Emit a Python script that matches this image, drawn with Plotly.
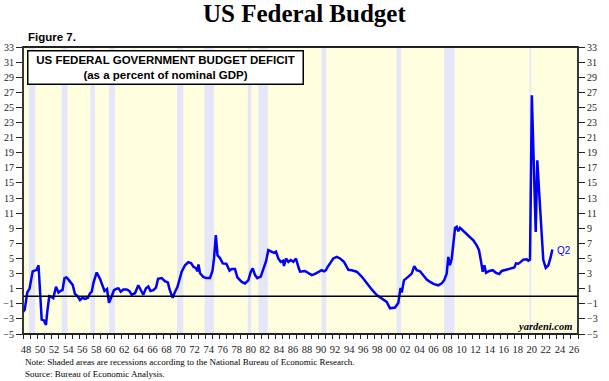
import plotly.graph_objects as go

# Budget deficit as % of nominal GDP, decimal years
years = [1948.0, 1948.24, 1948.61, 1948.93, 1949.38, 1949.95, 1950.21, 1950.42, 1950.66, 1950.99,
         1951.27, 1951.46, 1951.74, 1952.09, 1952.31, 1952.70, 1953.05, 1953.34, 1953.62, 1953.91,
         1954.19, 1954.48, 1954.76, 1955.07, 1955.40, 1955.73, 1956.11, 1956.44, 1956.83, 1957.25,
         1957.54, 1957.78, 1958.04, 1958.49, 1958.96, 1959.35, 1959.60, 1959.96, 1960.24, 1960.63,
         1960.95, 1961.34, 1961.59, 1961.91, 1962.28, 1962.76, 1963.13, 1963.47, 1963.94, 1964.41,
         1964.75, 1965.12, 1965.51, 1965.84, 1966.15, 1966.55, 1966.93, 1967.22, 1967.74, 1968.21,
         1968.64, 1968.83, 1969.17, 1969.31, 1969.64, 1969.99, 1970.59, 1971.06, 1971.53, 1971.91,
         1972.27, 1972.63, 1972.81, 1972.98, 1973.20, 1973.67, 1974.05, 1974.62, 1974.98, 1975.19,
         1975.45, 1975.69, 1976.04, 1976.43, 1976.94, 1977.40, 1977.71, 1978.18, 1978.51, 1979.13,
         1979.60, 1980.07, 1980.41, 1980.70, 1981.03, 1981.35, 1981.84, 1982.21, 1982.59, 1982.92,
         1983.40, 1983.73, 1984.01, 1984.34, 1984.68, 1985.01, 1985.15, 1985.44, 1985.77, 1986.11,
         1986.48, 1986.86, 1987.19, 1987.43, 1988.14, 1988.61, 1989.10, 1989.57, 1990.04, 1990.52,
         1990.85, 1991.13, 1991.37, 1991.80, 1992.17, 1992.66, 1993.13, 1993.69, 1994.31, 1994.79,
         1995.50, 1996.21, 1996.93, 1997.64, 1998.35, 1999.06, 1999.77, 2000.24, 2000.95, 2001.42,
         2001.57, 2001.74, 2001.91, 2002.23, 2002.85, 2003.33, 2003.69, 2004.04, 2004.51, 2004.98,
         2005.47, 2005.94, 2006.51, 2007.12, 2007.60, 2007.97, 2008.31, 2008.54, 2008.78, 2009.03,
         2009.25, 2009.50, 2009.74, 2009.96, 2010.21, 2010.68, 2011.16, 2011.63, 2012.10, 2012.58,
         2012.91, 2013.20, 2013.44, 2013.67, 2013.91, 2014.38, 2014.86, 2015.33, 2015.80, 2016.14,
         2016.85, 2017.57, 2017.94, 2018.18, 2018.51, 2018.85, 2019.22, 2019.70, 2019.93, 2020.17,
         2020.43, 2020.98, 2021.21, 2021.50, 2021.84, 2022.06, 2022.41, 2022.78, 2023.12, 2023.35]

deficit = [-2.1, -1.8, 0.5, 1.0, 3.3, 3.5, 4.1, 0.0, -3.1, -3.2,
           -3.8, -2.0, 0.0, -0.1, -0.25, 1.25, 0.5, 0.7, 0.8, 2.4,
           2.5, 2.2, 1.9, 1.5, 0.3, 0.05, -0.5, -0.2, -0.35, -0.2,
           0.4, 0.6, 1.8, 3.15, 2.3, 1.15, 0.7, 0.95, -0.86, 0.0,
           0.8, 1.0, 1.05, 0.6, 0.9, 0.9, 0.7, 0.2, 0.4, 1.45,
           0.8, 0.2, 1.05, 1.3, 0.7, 0.8, 1.15, 2.3, 2.4, 2.0,
           1.8, 1.0, 0.1, -0.2, 0.6, 1.25, 3.24, 4.1, 4.5, 4.4,
           3.9, 3.7, 3.3, 4.2, 3.05, 2.55, 2.4, 2.4, 3.4, 5.0,
           8.1, 5.4, 5.05, 4.35, 4.3, 3.4, 3.6, 3.6, 2.5, 1.9,
           1.7, 2.1, 3.2, 3.7, 2.8, 2.4, 2.6, 3.7, 4.6, 6.1,
           5.9, 5.75, 5.9, 5.0, 4.55, 4.7, 4.0, 5.0, 4.55, 4.8,
           4.55, 5.0, 3.9, 3.25, 3.35, 3.1, 2.8, 2.95, 3.25, 3.45,
           3.3, 3.45, 3.9, 4.55, 5.0, 5.2, 5.0, 4.55, 3.5, 3.45,
           3.25, 2.6, 1.7, 0.9, 0.15, -0.3, -0.75, -1.6, -1.5, -0.9,
           0.4, 1.1, 0.5, 2.1, 2.6, 3.0, 4.0, 3.45, 3.3, 2.7,
           2.2, 1.9, 1.6, 1.45, 1.7, 2.15, 3.0, 5.2, 4.1, 5.0,
           7.4, 9.05, 9.2, 8.6, 9.05, 8.65, 8.2, 7.85, 7.4, 6.75,
           6.1, 4.6, 3.25, 4.1, 3.1, 3.35, 3.45, 3.1, 2.95, 3.35,
           3.55, 3.7, 3.8, 4.35, 4.3, 4.55, 4.85, 4.9, 4.7, 4.85,
           26.6, 8.5, 18.0, 13.3, 8.6, 4.8, 3.75, 4.1, 5.2, 6.2]

# NBER recessions (decimal years)
rec_start = [1948.83, 1953.50, 1957.58, 1960.25, 1969.92, 1973.83, 1980.00, 1981.50, 1990.50, 2001.17, 2007.92, 2020.08]
rec_end   = [1949.75, 1954.33, 1958.25, 1961.08, 1970.83, 1975.17, 1980.50, 1982.83, 1991.17, 2001.83, 2009.42, 2020.33]

year_ticks = list(range(1948, 2028))
year_labels = [("%02d" % (y % 100)) if y % 2 == 0 and y < 2027 else "" for y in year_ticks]
y_ticks = list(range(-5, 34, 2))

serif = "Liberation Serif, Times New Roman, serif"
sans = "Liberation Sans, Arial, sans-serif"

fig = go.Figure()

fig.add_trace(go.Scatter(x=years, y=deficit, mode="lines",
                         line=dict(color="#0000FF", width=2.5),
                         hoverinfo="skip", showlegend=False))
# invisible trace to activate right axis
fig.add_trace(go.Scatter(x=[years[0]], y=[deficit[0]], yaxis="y2", mode="markers",
                         marker=dict(opacity=0), hoverinfo="skip", showlegend=False))

shapes = []
for s, e in zip(rec_start, rec_end):
    shapes.append(dict(type="rect", xref="x", yref="paper", x0=s, x1=e, y0=0, y1=1,
                       fillcolor="#E6E6FA", line=dict(width=0), layer="below"))
shapes.append(dict(type="line", xref="paper", yref="y", x0=0, x1=1, y0=0, y1=0,
                   line=dict(color="black", width=1.6)))
shapes.append(dict(type="rect", xref="paper", yref="paper", x0=0, x1=1, y0=0, y1=1,
                   line=dict(color="#222", width=1.8)))

annotations = [
    dict(text="<b>US Federal Budget</b>", xref="paper", yref="paper", x=0.508, y=1.115,
         xanchor="center", yanchor="middle", showarrow=False,
         font=dict(family=serif, size=25, color="black")),
    dict(text="<b>Figure 7.</b>", xref="paper", yref="paper", x=0.006, y=1.035,
         xanchor="left", yanchor="middle", showarrow=False,
         font=dict(family=sans, size=11.5, color="black")),
    dict(text="<b>US FEDERAL GOVERNMENT BUDGET DEFICIT</b><br><b>(as a percent of nominal GDP)</b>",
         xref="paper", yref="paper", x=0.0075, y=0.99, xanchor="left", yanchor="top",
         showarrow=False, align="center", width=270, height=28,
         bgcolor="white", bordercolor="black", borderwidth=1.5, borderpad=2,
         font=dict(family=sans, size=11.5, color="black")),
    dict(text="<b><i>yardeni.com</i></b>", xref="paper", yref="paper", x=0.992, y=0.025,
         xanchor="right", yanchor="middle", showarrow=False,
         font=dict(family=serif, size=10.5, color="black")),
    dict(text="Q2", xref="x", yref="y", x=years[-1], y=deficit[-1], xanchor="left",
         yanchor="middle", xshift=3, yshift=-1, showarrow=False,
         font=dict(family=sans, size=10, color="#0000FF")),
    dict(text="Note: Shaded areas are recessions according to the National Bureau of Economic Research.<br>Source: Bureau of Economic Analysis.",
         xref="paper", yref="paper", x=0.0, y=-0.072, xanchor="left", yanchor="top",
         showarrow=False, align="left",
         font=dict(family=serif, size=9, color="black")),
]

fig.update_layout(
    width=609, height=381,
    margin=dict(l=23, r=31, t=47, b=47, autoexpand=False),
    paper_bgcolor="white",
    plot_bgcolor="#FFFFE0",
    showlegend=False,
    shapes=shapes,
    annotations=annotations,
    xaxis=dict(range=[1948, 2027], tickmode="array", tickvals=year_ticks, ticktext=year_labels,
               ticks="outside", ticklen=4, tickwidth=1.2, tickcolor="#222",
               ticklabelshift=3, ticklabelstandoff=1, automargin=False,
               showgrid=False, zeroline=False, showline=False,
               tickfont=dict(family=serif, size=10.5, color="#222")),
    yaxis=dict(range=[-5, 33], tickmode="array", tickvals=y_ticks, automargin=False,
               ticks="outside", ticklen=6, tickwidth=1.2, tickcolor="#222",
               showgrid=False, zeroline=False, showline=False,
               tickfont=dict(family=serif, size=10, color="#222")),
    yaxis2=dict(range=[-5, 33], tickmode="array", tickvals=y_ticks, overlaying="y", side="right",
                ticks="outside", ticklen=6, tickwidth=1.2, tickcolor="#222", automargin=False,
                showgrid=False, zeroline=False, showline=False,
                tickfont=dict(family=serif, size=10, color="#222")),
)

fig.write_html("out.html", config={"displayModeBar": False},
               post_script="document.body.style.margin='0';document.body.style.overflow='hidden';")
